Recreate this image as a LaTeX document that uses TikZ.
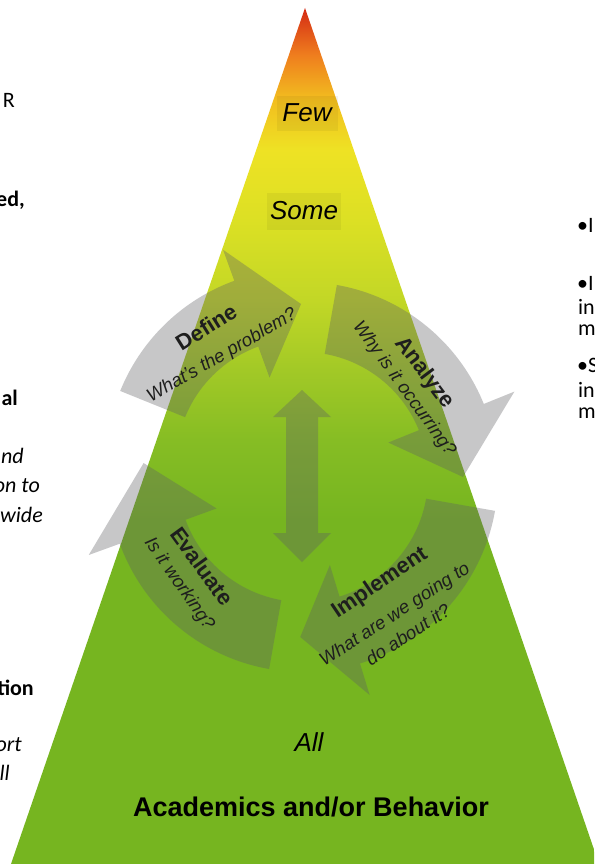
\documentclass[tikz,border=0pt]{standalone}
\usepackage{fontspec}
\setmainfont{Liberation Sans}
\newfontfamily\carl{Carlito}
\definecolor{g1}{HTML}{D42A14}
\definecolor{g2}{HTML}{EF7E1E}
\definecolor{g3}{HTML}{F2BE1F}
\definecolor{g4}{HTML}{EEE224}
\definecolor{g5}{HTML}{DCE024}
\definecolor{g6}{HTML}{C2D726}
\definecolor{g7}{HTML}{A2C926}
\definecolor{g8}{HTML}{86BD24}
\definecolor{g9}{HTML}{76B520}
\definecolor{cycgray}{RGB}{95,95,100}
\definecolor{lbltext}{HTML}{1E1E1E}
\pgfdeclareverticalshading{pyr}{100bp}{color(0bp)=(g9); color(25bp)=(g9); color(45.09bp)=(g9); color(49.77bp)=(g8); color(53.86bp)=(g7); color(57.94bp)=(g6); color(62.6bp)=(g5); color(66.7bp)=(g4); color(69.63bp)=(g3); color(72.25bp)=(g2); color(75bp)=(g1); color(100bp)=(g1)}
\newcommand{\cyclearrow}[3]{%
  \fill[cyc] plot[domain=#1:#2,samples=40] (\x:195) -- (#2:228) -- (#3:160) -- (#2:92) -- plot[domain=#2:#1,samples=40] (\x:125) -- cycle;}
\begin{document}
\begin{tikzpicture}[x=1pt,y=-1pt,
  cyc/.style={fill=cycgray,fill opacity=0.35},
  level/.style={font=\itshape\fontsize{26}{30}\selectfont,inner sep=0pt},
  steptitle/.style={font=\bfseries\fontsize{22}{26}\selectfont,text=lbltext,inner sep=0pt},
  stepsub/.style={font=\itshape\fontsize{18.5}{25}\selectfont,text=lbltext,inner sep=0pt,align=center},
  sidereg/.style={font=\carl\fontsize{22}{26}\selectfont,inner sep=0pt},
  sidebold/.style={font=\carl\bfseries\fontsize{22}{26}\selectfont,inner sep=0pt},
  sideit/.style={font=\carl\itshape\fontsize{22}{26}\selectfont,inner sep=0pt}]
\useasboundingbox (0,0) rectangle (594,864);
\clip (0,0) rectangle (594,864);
\fill[white] (0,0) rectangle (594,864);
% pyramid
\shade[shading=pyr] (305,8) -- (599,864) -- (11,864) -- cycle;
% faint label boxes
\fill[black,opacity=0.05] (277,96) rectangle (338,131);
\fill[black,opacity=0.05] (267,193) rectangle (341,230);
% cycle arrows
\begin{scope}[shift={(301,464)}]
  \cyclearrow{202}{250}{270}
\end{scope}
\begin{scope}[shift={(303,477)}]
  \cyclearrow{280}{338}{360}
  \cyclearrow{10}{73}{91}
  \cyclearrow{100}{160}{185}
\end{scope}
% central double arrow
\fill[cyc] (286,417) -- (273,417) -- (302,390) -- (331,417) -- (318,417) -- (318,533) -- (331,533) -- (302,562) -- (273,533) -- (286,533) -- cycle;
% pyramid labels
\node[level] (few) at (307,113) {Few};
\node[level] (some) at (304,211) {Some};
\node[level] (all) at (309,742) {All};
\node[font=\bfseries\fontsize{27}{31}\selectfont,inner sep=0pt] (acad) at (311,807) {Academics and/or Behavior};
% step labels
\node[steptitle,rotate=32] (define) at (206,327) {Define};
\node[stepsub,rotate=30] (definesub) at (222,356) {What's the problem?};
\node[steptitle,rotate=-53] (analyze) at (424,373) {Analyze};
\node[stepsub,rotate=-54] (analyzesub) at (404,389) {Why is it occurring?};
\node[steptitle,rotate=-54] (evaluate) at (202,566) {Evaluate};
\node[stepsub,rotate=-55] (evaluatesub) at (179,584) {Is it working?};
\node[steptitle,rotate=34] (implement) at (380,583) {Implement};
\node[stepsub,rotate=33] (implementsub) at (401,624) {What are we going to\\do about it?};
% left side text fragments
\node[sidereg,anchor=east] (l1) at (15,100) {R};
\node[sidebold,anchor=east] (l2) at (25,200) {ed,};
\node[sidebold,anchor=east] (l3) at (18,398) {al};
\node[sideit,anchor=east] (l4) at (24,456) {nd};
\node[sideit,anchor=east] (l5) at (40,486) {on to};
\node[sideit,anchor=east] (l6) at (43,515) {wide};
\node[sidebold,anchor=east] (l7) at (34,688) {tion};
\node[sideit,anchor=east] (l8) at (22,745) {ort};
\node[sideit,anchor=east] (l9) at (10,773) {ll};
% right side text fragments
\node[sidereg,anchor=west] (r1) at (577,225) {•I};
\node[sidereg,anchor=west] (r2) at (577,283) {•I};
\node[sidereg,anchor=west] (r3) at (578,307) {in};
\node[sidereg,anchor=west] (r4) at (578,330) {m};
\node[sidereg,anchor=west] (r5) at (577,365) {•S};
\node[sidereg,anchor=west] (r6) at (578,390) {in};
\node[sidereg,anchor=west] (r7) at (578,413) {m};
\end{tikzpicture}
\end{document}
